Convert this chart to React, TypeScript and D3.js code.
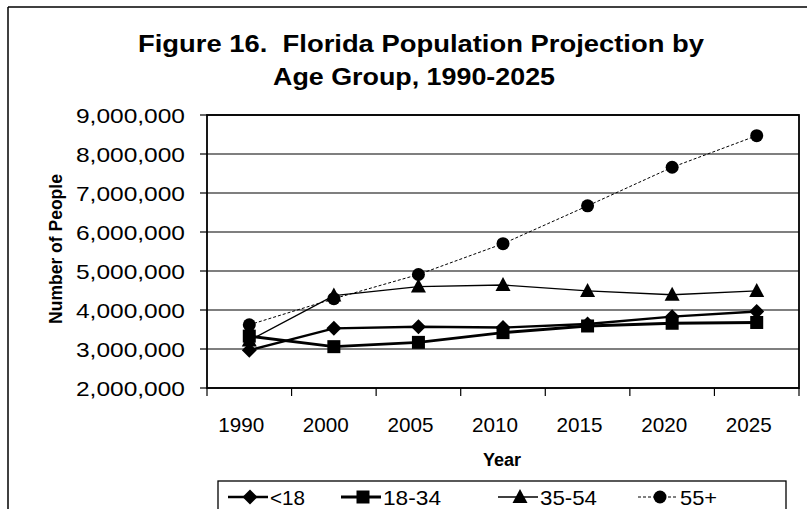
import React from "react";
import * as d3 from "d3";

const years = ["1990", "2000", "2005", "2010", "2015", "2020", "2025"];
const under18 = [2970000, 3530000, 3570000, 3550000, 3640000, 3830000, 3960000];
const age18to34 = [3330000, 3060000, 3170000, 3420000, 3590000, 3660000, 3680000];
const age35to54 = [3220000, 4370000, 4600000, 4640000, 4490000, 4390000, 4490000];
const age55plus = [3620000, 4290000, 4910000, 5700000, 6670000, 7660000, 8470000];
const yTicks = [2000000, 3000000, 4000000, 5000000, 6000000, 7000000, 8000000, 9000000];
const seriesNames = ["<18", "18-34", "35-54", "55+"];
const titleLines = ["Figure 16.\u00a0 Florida Population Projection by", "Age Group, 1990-2025"];

const W = 807, H = 509;
const plot = { left: 207, right: 799, top: 115, bottom: 388 };
const font = "'Liberation Sans', Arial, sans-serif";

function Marker({ type, x, y }: { type: string; x: number; y: number }) {
  if (type === "diamond") return <path d={`M${x},${y - 7.5}L${x + 7.5},${y}L${x},${y + 7.5}L${x - 7.5},${y}Z`} fill="#000" />;
  if (type === "square") return <rect x={x - 6.5} y={y - 6.5} width={13} height={13} fill="#000" />;
  if (type === "triangle") return <path d={`M${x},${y - 8}L${x + 7.5},${y + 6}L${x - 7.5},${y + 6}Z`} fill="#000" />;
  return <circle cx={x} cy={y} r={6.5} fill="#000" />;
}

export default function App() {
  const x = d3.scaleBand().domain(years).range([plot.left, plot.right]);
  const y = d3.scaleLinear().domain([2000000, 9000000]).range([plot.bottom, plot.top]);
  const fmt = d3.format(",");
  const cx = (yr: string) => (x(yr) as number) + x.bandwidth() / 2;
  const series = [
    { name: seriesNames[0], values: under18, marker: "diamond", width: 2.4, dash: "" },
    { name: seriesNames[1], values: age18to34, marker: "square", width: 2.8, dash: "" },
    { name: seriesNames[2], values: age35to54, marker: "triangle", width: 1.4, dash: "" },
    { name: seriesNames[3], values: age55plus, marker: "circle", width: 1, dash: "3,2" },
  ];
  const line = d3.line<number>().x((_, i) => cx(years[i])).y((d) => y(d));
  const legendX = [250, 363, 520, 660];
  const legendW = [35, 58, 57, 37];

  return (
    <svg width={W} height={H} style={{ position: "absolute", left: 0, top: 0, background: "#fff" }} fontFamily={font}>
      <rect x={0} y={0} width={W} height={H} fill="#fff" />
      <line x1={8} y1={7} x2={W} y2={7} stroke="#000" strokeWidth={1.5} />
      <line x1={8} y1={7} x2={8} y2={H} stroke="#000" strokeWidth={1.5} />
      <text x={421} y={52} textAnchor="middle" fontSize={23} fontWeight="bold" textLength={566} lengthAdjust="spacingAndGlyphs">{titleLines[0]}</text>
      <text x={414} y={85} textAnchor="middle" fontSize={23} fontWeight="bold" textLength={282} lengthAdjust="spacingAndGlyphs">{titleLines[1]}</text>
      {yTicks.map((t) => (
        <g key={t}>
          <line x1={plot.left} x2={plot.right} y1={y(t)} y2={y(t)} stroke="#000" strokeWidth={1.1} />
          <line x1={plot.left - 7} x2={plot.left} y1={y(t)} y2={y(t)} stroke="#000" strokeWidth={1.2} />
          <text x={185} y={y(t) + 7.5} textAnchor="end" fontSize={21} textLength={109} lengthAdjust="spacingAndGlyphs">{fmt(t)}</text>
        </g>
      ))}
      <rect x={plot.left} y={plot.top} width={plot.right - plot.left} height={plot.bottom - plot.top} fill="none" stroke="#000" strokeWidth={1.8} />
      {years.map((yr, i) => (
        <g key={yr}>
          <line x1={plot.left + i * x.step()} x2={plot.left + i * x.step()} y1={plot.bottom} y2={plot.bottom + 8} stroke="#000" strokeWidth={1.2} />
          <text x={cx(yr) - 8} y={432} textAnchor="middle" fontSize={21} textLength={46} lengthAdjust="spacingAndGlyphs">{yr}</text>
        </g>
      ))}
      <line x1={plot.right} x2={plot.right} y1={plot.bottom} y2={plot.bottom + 8} stroke="#000" strokeWidth={1.2} />
      <text transform={`translate(62,249) rotate(-90)`} textAnchor="middle" fontSize={17.5} fontWeight="bold">Number of People</text>
      <text x={502} y={466} textAnchor="middle" fontSize={18} fontWeight="bold">Year</text>
      {series.map((s) => (
        <g key={s.name}>
          <path d={line(s.values) || ""} fill="none" stroke="#000" strokeWidth={s.width} strokeDasharray={s.dash} />
          {s.values.map((v, i) => (
            <Marker key={i} type={s.marker} x={cx(years[i])} y={y(v)} />
          ))}
        </g>
      ))}
      <rect x={218} y={481} width={568} height={40} fill="#fff" stroke="#000" strokeWidth={1.3} />
      {series.map((s, i) => (
        <g key={s.name}>
          <line x1={legendX[i] - 22} x2={legendX[i] + 18} y1={497} y2={497} stroke="#000" strokeWidth={s.width} strokeDasharray={s.dash} />
          <Marker type={s.marker} x={legendX[i]} y={497} />
          <text x={legendX[i] + 20} y={505} fontSize={21} textLength={legendW[i]} lengthAdjust="spacingAndGlyphs">{s.name}</text>
        </g>
      ))}
    </svg>
  );
}
